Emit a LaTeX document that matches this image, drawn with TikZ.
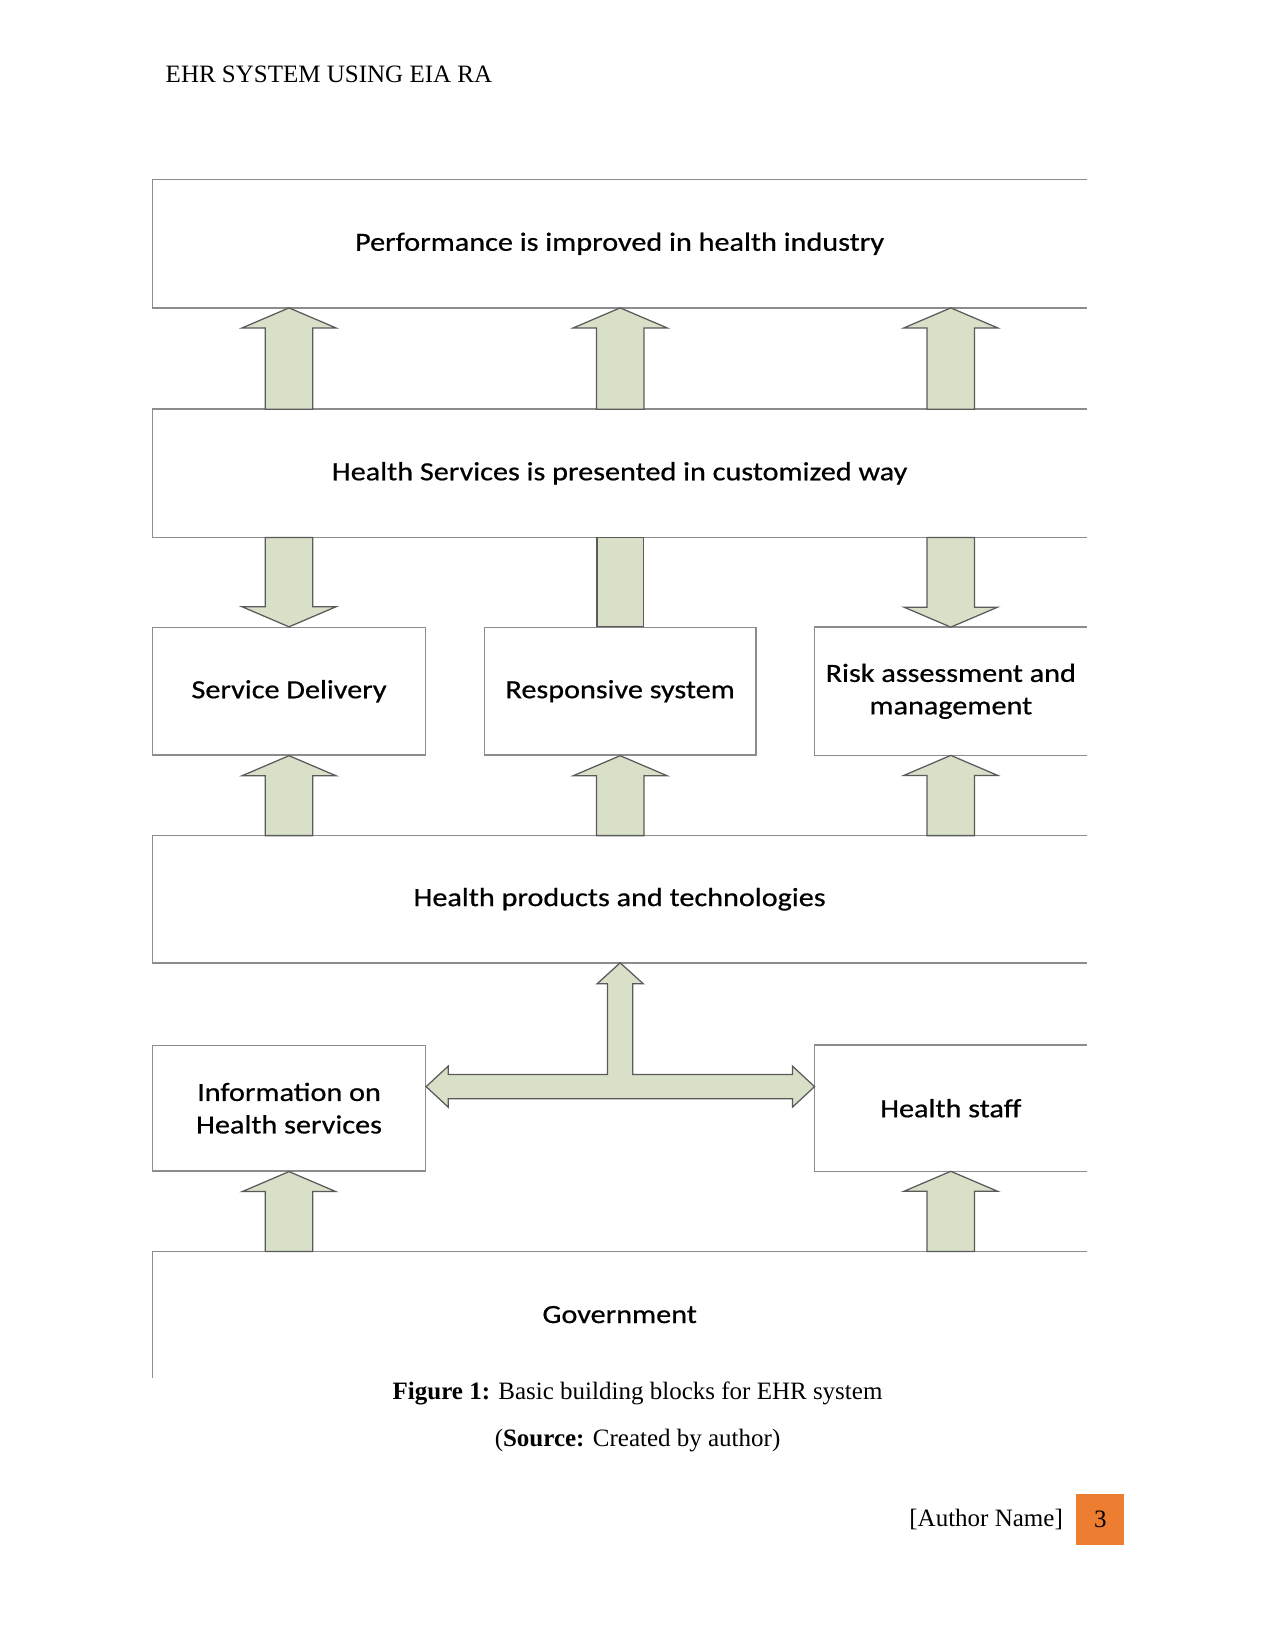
\documentclass[tikz,border=0pt]{standalone}
\usepackage{fontspec}
\setmainfont{Liberation Serif}
\newfontfamily\diagfont[FakeStretch=1.15,FakeBold=0.6]{Carlito}
\usepackage{tikz}
\usetikzlibrary{positioning}

\definecolor{boxgray}{RGB}{140,140,140}
\definecolor{arrfill}{RGB}{216,224,200}
\definecolor{arrdraw}{RGB}{90,90,90}
\definecolor{pgorange}{RGB}{237,125,49}
\newcommand{\px}{0.50535pt}

% block arrow pointing up, at the x of #1, from #2 up to #3
\newcommand{\blkup}[3]{%
  \coordinate (t) at (#1 |- #3.south);
  \coordinate (b) at (#1 |- #2.north);
  \draw[barr] (t) -- ([shift={(44.5,19)}]t) -- ([shift={(22.5,19)}]t) -- ([shift={(22.5,0)}]b)
    -- ([shift={(-22.5,0)}]b) -- ([shift={(-22.5,19)}]t) -- ([shift={(-44.5,19)}]t) -- cycle;}
% block arrow pointing down, at the x of #1, from #2 down to #3
\newcommand{\blkdown}[3]{%
  \coordinate (t) at (#1 |- #3.north);
  \coordinate (b) at (#1 |- #2.south);
  \draw[barr] (t) -- ([shift={(44.5,-19)}]t) -- ([shift={(22.5,-19)}]t) -- ([shift={(22.5,0)}]b)
    -- ([shift={(-22.5,0)}]b) -- ([shift={(-22.5,-19)}]t) -- ([shift={(-44.5,-19)}]t) -- cycle;}
% box without its right side
\newcommand{\openbox}[1]{\draw[edge] (#1.north east) -| (#1.south west) -- (#1.south east);}

\begin{document}
\begin{tikzpicture}[x=0.50535pt,y=-0.50535pt,
  blk/.style={inner sep=0pt,align=center,font=\diagfont\fontsize{12.6}{15.6}\selectfont},
  sz/.style 2 args={minimum width=#1*\px,minimum height=#2*\px},
  edge/.style={draw=boxgray,line width=0.7pt},
  cls/.style={blk,edge},
  barr/.style={fill=arrfill,draw=arrdraw,line width=0.6pt,line join=miter},
  txt/.style={inner sep=0pt,font=\fontsize{12}{14}\selectfont}]
\useasboundingbox (0,0) rectangle (1211,1568);

\node[txt,anchor=base west] (hdr) at (157,78.5) {EHR SYSTEM USING EIA RA};

% boxes
\node[blk,sz={887}{121}] (perf) at (588.5,231.5) {Performance is improved in health industry};
\node[blk,sz={887}{121}] (hs) at (588.5,449.5) {Health Services is presented in customized way};
\node[cls,sz={259}{121}] (sd) at (274.5,656.5) {Service Delivery};
\node[cls,sz={258}{121}] (resp) at (589,656.5) {Responsive system};
\node[blk,sz={258}{121}] (risk) at (903,656.5) {Risk assessment and\\management};
\node[blk,sz={887}{120}] (hpt) at (588.5,854) {Health products and technologies};
\node[cls,sz={259}{119}] (info) at (274.5,1052.5) {Information on\\Health services};
\node[blk,sz={258}{119}] (staff) at (903,1052.5) {Health staff};
\node[blk,sz={887}{119}] (gov) at (588.5,1248.5) {Government};
\foreach \n in {perf,hs,risk,hpt,staff}{\openbox{\n}}
\draw[edge] (gov.north east) -| (gov.south west);

% arrows
\foreach \n in {sd,resp,risk}{\blkup{\n}{hs}{perf}}
\blkdown{sd}{hs}{sd}
\blkdown{risk}{hs}{risk}
\coordinate (m) at (resp |- hs.south);
\draw[barr] ([shift={(-22,0)}]m) rectangle ([shift={(22,0)}]resp.north);
\foreach \n in {sd,resp,risk}{\blkup{\n}{hpt}{\n}}
\blkup{info}{gov}{info}
\blkup{staff}{gov}{staff}

% T arrow
\coordinate (tj) at (589,1032);
\coordinate (top) at (tj |- hpt.south);
\coordinate (L) at (info.east |- tj);
\coordinate (R) at (staff.west |- tj);
\draw[barr] (top) -- ([shift={(22,20)}]top) -- ([shift={(12,20)}]top) -- ([shift={(12,-11.5)}]tj)
  -- ([shift={(-21,-11.5)}]R) -- ([shift={(-21,-19.5)}]R) -- (R) -- ([shift={(-21,19.5)}]R)
  -- ([shift={(-21,11.5)}]R) -- ([shift={(21,11.5)}]L) -- ([shift={(21,19.5)}]L) -- (L)
  -- ([shift={(21,-19.5)}]L) -- ([shift={(21,-11.5)}]L) -- ([shift={(-12,-11.5)}]tj)
  -- ([shift={(-12,20)}]top) -- ([shift={(-22,20)}]top) -- cycle;

% caption and footer
\node[txt,anchor=base] (cap) at (605.5,1329) {\textbf{Figure 1:} Basic building blocks for EHR system};
\node[txt,anchor=base] (src) at (605.5,1374) {(\textbf{Source:} Created by author)};
\node[txt,fill=pgorange,minimum width=23.2pt,minimum height=24.3pt] (pg) at (1045,1443) {3};
\node[txt,left=6pt of pg] (auth) {[Author Name]};
\end{tikzpicture}
\end{document}
